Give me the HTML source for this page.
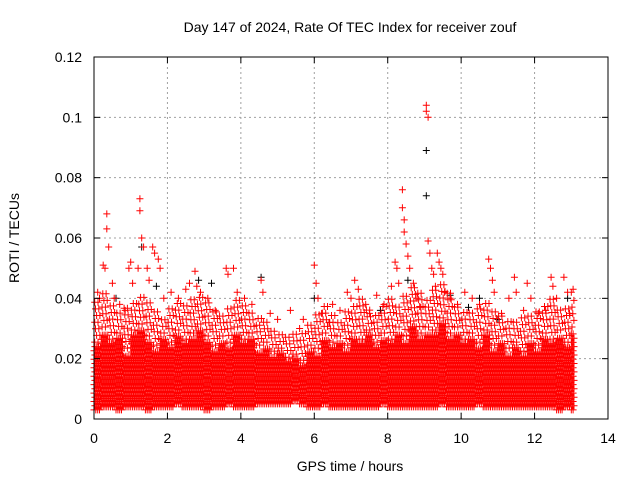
<!DOCTYPE html>
<html><head><meta charset="utf-8"><style>
body{margin:0;background:#fff;}
svg{display:block;font-family:"Liberation Sans",sans-serif;}
</style></head><body>
<svg id="chart" width="640" height="480" xmlns="http://www.w3.org/2000/svg">
<text x="350" y="32" font-size="14" text-anchor="middle">Day 147 of 2024, Rate Of TEC Index for receiver zouf</text>
<text transform="translate(19,238) rotate(-90)" font-size="14" text-anchor="middle">ROTI / TECUs</text>
<text x="350" y="471" font-size="14" text-anchor="middle">GPS time / hours</text>
<g id="grid"></g><g id="marks"></g><g id="axes"></g>
</svg>
<script>
const xTicks=[0,2,4,6,8,10,12,14];
const yTicks=[0,0.02,0.04,0.06,0.08,0.1,0.12];
const yTickLabels=["0","0.02","0.04","0.06","0.08","0.1","0.12"];
const binStep=0.2;
const coreUpper=[0.024,0.029,0.025,0.027,0.022,0.028,0.03,0.026,0.023,0.027,0.024,0.028,0.025,
0.027,0.03,0.026,0.023,0.026,0.024,0.029,0.025,0.027,0.023,0.024,0.021,
0.022,0.019,0.02,0.018,0.023,0.022,0.027,0.024,0.026,0.023,0.027,0.025,
0.028,0.024,0.027,0.025,0.029,0.026,0.031,0.027,0.029,0.028,0.032,0.027,
0.029,0.025,0.027,0.024,0.028,0.023,0.026,0.022,0.024,0.021,0.026,0.023,
0.027,0.025,0.028,0.024,0.029];
const coreLower=[0.003,0.004,0.004,0.003,0.004,0.004,0.004,0.003,0.004,0.004,0.004,0.005,0.004,
0.004,0.004,0.003,0.004,0.004,0.005,0.004,0.004,0.004,0.005,0.005,0.005,
0.005,0.005,0.006,0.005,0.004,0.004,0.005,0.004,0.004,0.004,0.004,0.004,
0.004,0.004,0.005,0.004,0.004,0.004,0.004,0.004,0.004,0.004,0.005,0.004,
0.004,0.004,0.004,0.005,0.004,0.004,0.004,0.004,0.004,0.004,0.004,0.004,
0.004,0.004,0.003,0.004,0.003];
const spreadUpper=[0.04,0.042,0.038,0.036,0.037,0.04,0.042,0.04,0.036,0.035,0.037,0.04,0.038,
0.04,0.042,0.04,0.036,0.035,0.038,0.04,0.038,0.036,0.035,0.033,0.03,
0.03,0.028,0.03,0.03,0.033,0.036,0.038,0.036,0.034,0.036,0.038,0.04,
0.038,0.036,0.038,0.04,0.038,0.042,0.044,0.042,0.04,0.044,0.045,0.042,
0.038,0.037,0.036,0.038,0.04,0.036,0.035,0.034,0.033,0.034,0.035,0.036,
0.038,0.04,0.037,0.038,0.04];
const peakT=[0.35,0.35,0.4,0.3,0.25,0.1,0.15,0.5,0.55,0.7,0.85,0.95,1.0,1.05,1.25,1.25,1.3,1.35,1.2,1.45,1.5,1.6,1.65,1.75,1.8,1.9,2.1,2.3,2.5,2.6,2.75,2.8,2.9,3.1,3.3,3.6,3.65,3.8,3.9,4.1,4.3,4.55,4.6,4.8,5.0,5.35,5.6,5.7,6.0,6.05,6.1,6.2,6.4,6.5,6.7,6.9,7.0,7.1,7.2,7.4,7.5,7.7,7.9,8.1,8.2,8.25,8.4,8.4,8.45,8.45,8.5,8.55,8.6,8.3,8.7,8.8,8.9,9.05,9.05,9.1,9.1,9.15,9.2,9.25,9.35,9.4,9.45,9.5,9.55,9.3,9.7,9.9,10.1,10.3,10.5,10.75,10.8,10.85,10.9,11.1,11.3,11.45,11.5,11.7,11.8,11.9,12.1,12.3,12.45,12.5,12.6,12.8,12.9,13.0,13.05,12.95];
const peakV=[0.068,0.063,0.057,0.05,0.051,0.042,0.04,0.045,0.04,0.038,0.036,0.05,0.052,0.045,0.073,0.069,0.06,0.057,0.05,0.05,0.046,0.057,0.055,0.053,0.05,0.04,0.042,0.04,0.043,0.045,0.049,0.044,0.042,0.04,0.036,0.05,0.048,0.05,0.042,0.04,0.038,0.046,0.042,0.035,0.033,0.036,0.03,0.033,0.051,0.045,0.04,0.035,0.032,0.038,0.036,0.042,0.04,0.046,0.043,0.038,0.035,0.041,0.038,0.044,0.052,0.05,0.076,0.07,0.066,0.062,0.058,0.054,0.05,0.045,0.045,0.04,0.037,0.104,0.102,0.1,0.059,0.055,0.05,0.048,0.055,0.052,0.05,0.048,0.042,0.044,0.04,0.038,0.042,0.04,0.038,0.053,0.05,0.046,0.042,0.035,0.04,0.047,0.042,0.036,0.045,0.04,0.035,0.036,0.047,0.044,0.04,0.047,0.042,0.042,0.043,0.035];
const blackT=[9.05,9.05,1.3,8.55,3.2,4.55,10.5,12.9,0.6,2.85,6.0,9.7,11.0,1.7,7.8,10.2];
const blackV=[0.089,0.074,0.057,0.046,0.045,0.047,0.04,0.04,0.04,0.046,0.04,0.041,0.033,0.044,0.036,0.037];

const X0=94,X1=608,Y0=419,Y1=57;
const xs=t=>X0+(t-0)/(14-0)*(X1-X0);
const ys=v=>Y0-(v-0)/(0.12-0)*(Y0-Y1);
const NS="http://www.w3.org/2000/svg";
const grid=document.getElementById('grid'),marks=document.getElementById('marks'),axes=document.getElementById('axes');
function mk(tag,attrs,parent){const e=document.createElementNS(NS,tag);for(const k in attrs)e.setAttribute(k,attrs[k]);parent.appendChild(e);return e;}
xTicks.forEach((t,i)=>{
  if(t>0&&t<14){const g=mk('line',{x1:xs(t),x2:xs(t),y1:Y0,y2:Y1,stroke:'#a0a0a0','stroke-dasharray':'2,3'},grid);
  
  }
  const tk=mk('line',{x1:xs(t),x2:xs(t),y1:Y0,y2:Y0-6,stroke:'#000'},axes);
  
  
  const tk2=mk('line',{x1:xs(t),x2:xs(t),y1:Y1,y2:Y1+6,stroke:'#000'},axes);
  
  
  const l=mk('text',{x:xs(t),y:Y0+24,'font-size':14,'text-anchor':'middle'},axes);l.textContent=String(t);
  
  
});
yTicks.forEach((v,i)=>{
  if(v>0&&v<0.12){const g=mk('line',{x1:X0,x2:X1,y1:ys(v),y2:ys(v),stroke:'#a0a0a0','stroke-dasharray':'2,3'},grid);
  
  }
  const tk=mk('line',{x1:X0,x2:X0+6,y1:ys(v),y2:ys(v),stroke:'#000'},axes);
  
  
  const tk2=mk('line',{x1:X1,x2:X1-6,y1:ys(v),y2:ys(v),stroke:'#000'},axes);
  
  
  const l=mk('text',{x:X0-12,y:ys(v)+5,'font-size':14,'text-anchor':'end'},axes);l.textContent=yTickLabels[i];
  
  
});
const frame=mk('rect',{x:X0,y:Y1,width:X1-X0,height:Y0-Y1,fill:'none',stroke:'#000'},axes);



let dRed='',dBlack='';
const plus=(x,y)=>`M${(x-3.5).toFixed(1)} ${y.toFixed(1)}h7M${x.toFixed(1)} ${(y-3.5).toFixed(1)}v7`;
coreUpper.forEach((up,i)=>{
  const t0=i*binStep;
  const lo=coreLower[i];
  let row=0;
  for(let v=lo;v<=up;v+=0.0014,row++){
    for(let k=0;k<4;k++){const t=t0+(k+(row%2)*0.5)*binStep/4;if(t>13.08)continue;dRed+=plus(xs(t),ys(v));}
  }
  row=0;
  for(let v=up+0.0015;v<=spreadUpper[i];v+=0.0022,row++){
    const offs=[[0.1,0.55],[0.35,0.8],[0.2,0.65]][row%3];
    offs.forEach(o=>{const t=t0+o*binStep;if(t<=13.08)dRed+=plus(xs(t),ys(v));});
  }
});
peakT.forEach((t,i)=>{dRed+=plus(xs(t),ys(peakV[i]));});
blackT.forEach((t,i)=>{dBlack+=plus(xs(t),ys(blackV[i]));});
const pb=mk('path',{d:dBlack,stroke:'#000','stroke-width':1,fill:'none'},marks);


const pr=mk('path',{d:dRed,stroke:'#ff0000','stroke-width':1,fill:'none'},marks);


</script>
</body></html>
